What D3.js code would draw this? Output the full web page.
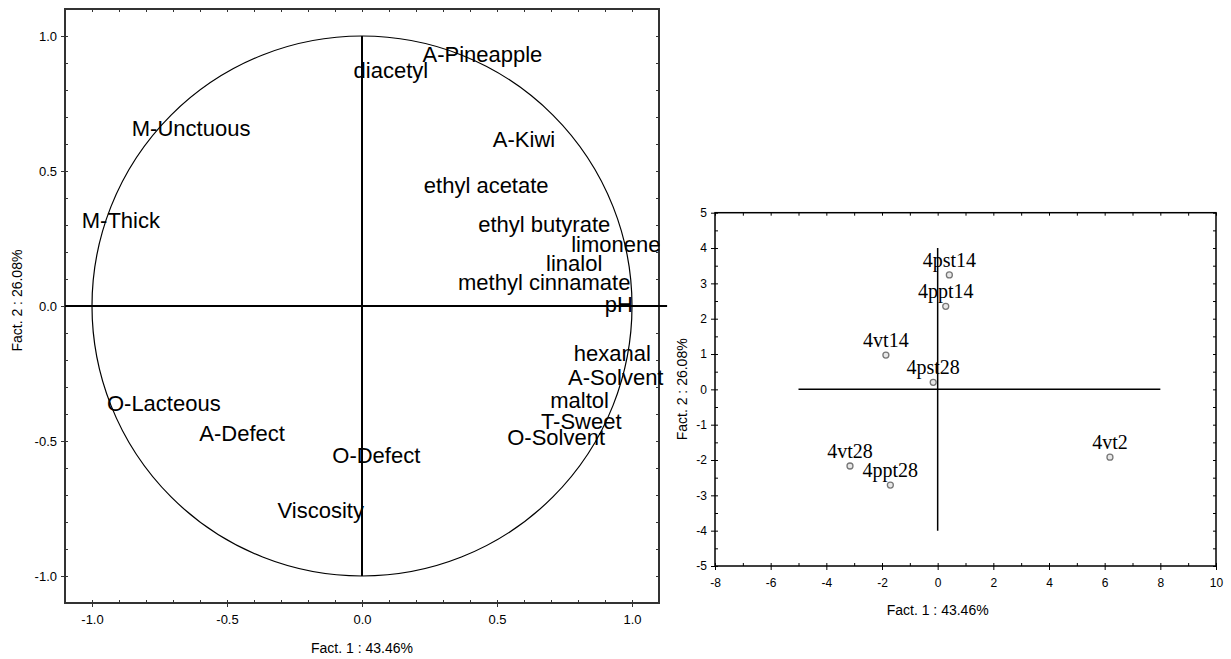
<!DOCTYPE html>
<html><head><meta charset="utf-8">
<script src="https://cdn.jsdelivr.net/npm/d3@7"></script>
<style>body{margin:0;background:#fff}svg{display:block}</style>
</head><body>
<svg id="c" width="1231" height="659"></svg>
<script>
// ---- Variables (loadings) plot ----
const varNames = ["A-Pineapple","diacetyl","M-Unctuous","A-Kiwi","ethyl acetate","M-Thick","ethyl butyrate","limonene","linalol","methyl cinnamate","pH","hexanal","A-Solvent","O-Lacteous","maltol","T-Sweet","A-Defect","O-Solvent","O-Defect","Viscosity"];
const varX = [0.446,0.107,-0.633,0.600,0.460,-0.893,0.675,0.940,0.786,0.675,0.951,0.927,0.940,-0.734,0.806,0.812,-0.444,0.719,0.053,-0.153];
const varY = [0.934,0.873,0.659,0.618,0.449,0.317,0.302,0.230,0.160,0.089,0.006,-0.173,-0.263,-0.358,-0.350,-0.427,-0.471,-0.486,-0.551,-0.755];
const leftMajorTicks = [-1.0,-0.5,0.0,0.5,1.0];
const leftMinorTicks = d3.range(-11,12).map(d=>d/10);
const leftXTitle = "Fact. 1  : 43.46%";
const leftYTitle = "Fact. 2  : 26.08%";

// ---- Cases (scores) plot ----
const caseNames = ["4pst14","4ppt14","4vt14","4pst28","4vt2","4vt28","4ppt28"];
const caseX = [0.42,0.29,-1.86,-0.16,6.19,-3.15,-1.70];
const caseY = [3.24,2.35,0.97,0.20,-1.92,-2.17,-2.71];
const rightXTicks = [-8,-6,-4,-2,0,2,4,6,8,10];
const rightXMinor = d3.range(-8,11);
const rightYTicks = [-5,-4,-3,-2,-1,0,1,2,3,4,5];
const rightYMinor = d3.range(-10,11).map(d=>d/2);
const rightXTitle = "Fact. 1 : 43.46%";
const rightYTitle = "Fact. 2 : 26.08%";

const svg = d3.select("#c");
const sans = "'Liberation Sans', Arial, sans-serif";
const serif = "'Liberation Serif', 'Times New Roman', serif";
const hy = f => d => f(d).replace("\u2212","-");

function frame(g, x, y, majX, minX, majY, minY, fmt, fontSize, color, sw) {
  const [x0,x1] = x.range(), [y0,y1] = y.range();
  const minorStyle = sel => { sel.select(".domain").remove(); sel.selectAll("line").attr("stroke",color); };
  g.append("g").attr("transform",`translate(0,${y0})`).call(d3.axisBottom(x).tickValues(minX).tickSize(-3).tickFormat("")).call(minorStyle);
  g.append("g").attr("transform",`translate(0,${y1})`).call(d3.axisTop(x).tickValues(minX).tickSize(-3).tickFormat("")).call(minorStyle);
  g.append("g").attr("transform",`translate(${x0},0)`).call(d3.axisLeft(y).tickValues(minY).tickSize(-3).tickFormat("")).call(minorStyle);
  g.append("g").attr("transform",`translate(${x1},0)`).call(d3.axisRight(y).tickValues(minY).tickSize(-3).tickFormat("")).call(minorStyle);
  const majStyle = sel => {
    sel.select(".domain").remove();
    sel.selectAll("line").attr("stroke",color);
    sel.selectAll("text").attr("fill","#000").style("font-family",sans).style("font-size",fontSize+"px");
  };
  g.append("g").attr("transform",`translate(0,${y0})`).call(d3.axisBottom(x).tickValues(majX).tickSize(4).tickPadding(8).tickFormat(hy(fmt))).call(majStyle);
  g.append("g").attr("transform",`translate(${x0},0)`).call(d3.axisLeft(y).tickValues(majY).tickSize(4).tickPadding(4).tickFormat(hy(fmt))).call(majStyle);
  g.append("rect").attr("x",x0).attr("y",y1).attr("width",x1-x0).attr("height",y0-y1)
    .attr("fill","none").attr("stroke",color).attr("stroke-width",sw);
}

// ===== Left plot =====
{
  const x = d3.scaleLinear().domain([-1.1,1.1]).range([65,659]);
  const y = d3.scaleLinear().domain([-1.1,1.1]).range([603,9]);
  const g = svg.append("g");
  frame(g, x, y, leftMajorTicks, leftMinorTicks, leftMajorTicks, leftMinorTicks, d3.format(".1f"), 13, "#333", 2);
  g.append("circle").attr("cx",x(0)).attr("cy",y(0)).attr("r",x(1)-x(0))
    .attr("fill","none").attr("stroke","#000").attr("stroke-width",1.2);
  g.append("line").attr("x1",x(-1.1)).attr("x2",x(1.13)).attr("y1",y(0)).attr("y2",y(0)).attr("stroke","#000").attr("stroke-width",2);
  g.append("line").attr("x1",x(0)).attr("x2",x(0)).attr("y1",y(1)).attr("y2",y(-1)).attr("stroke","#000").attr("stroke-width",2);
  g.selectAll("text.var").data(varNames).join("text").attr("class","var")
    .attr("x",(d,i)=>x(varX[i])).attr("y",(d,i)=>y(varY[i])).attr("dy","0.36em")
    .attr("text-anchor","middle").style("font-family",sans).style("font-size","22px").attr("fill","#000")
    .text(d=>d);
  g.append("text").attr("x",x(0)).attr("y",653).attr("text-anchor","middle")
    .style("font-family",sans).style("font-size","14px").text(leftXTitle);
  g.append("text").attr("transform",`translate(22,${y(0.02)}) rotate(-90)`).attr("text-anchor","middle")
    .style("font-family",sans).style("font-size","14px").text(leftYTitle);
}

// ===== Right plot =====
{
  const x = d3.scaleLinear().domain([-8,10]).range([715,1216]);
  const y = d3.scaleLinear().domain([-5,5]).range([566,212.7]);
  const g = svg.append("g");
  frame(g, x, y, rightXTicks, rightXMinor, rightYTicks, rightYMinor, d3.format("d"), 12, "#000", 1.5);
  g.append("line").attr("x1",x(-5)).attr("x2",x(8)).attr("y1",y(0)).attr("y2",y(0)).attr("stroke","#000").attr("stroke-width",1.5);
  g.append("line").attr("x1",x(0)).attr("x2",x(0)).attr("y1",y(4)).attr("y2",y(-4)).attr("stroke","#000").attr("stroke-width",1.5);
  g.selectAll("circle.pt").data(caseNames).join("circle").attr("class","pt")
    .attr("cx",(d,i)=>x(caseX[i])).attr("cy",(d,i)=>y(caseY[i])).attr("r",3)
    .attr("fill","#e8e8e8").attr("stroke","#777").attr("stroke-width",1.3);
  g.selectAll("text.case").data(caseNames).join("text").attr("class","case")
    .attr("x",(d,i)=>x(caseX[i])).attr("y",(d,i)=>y(caseY[i])-8)
    .attr("text-anchor","middle").style("font-family",serif).style("font-size","20px").attr("fill","#000")
    .text(d=>d);
  g.append("text").attr("x",x(0)).attr("y",615).attr("text-anchor","middle")
    .style("font-family",sans).style("font-size","14px").text(rightXTitle);
  g.append("text").attr("transform",`translate(687,${y(0)}) rotate(-90)`).attr("text-anchor","middle")
    .style("font-family",sans).style("font-size","14px").text(rightYTitle);
}
</script>
</body></html>
